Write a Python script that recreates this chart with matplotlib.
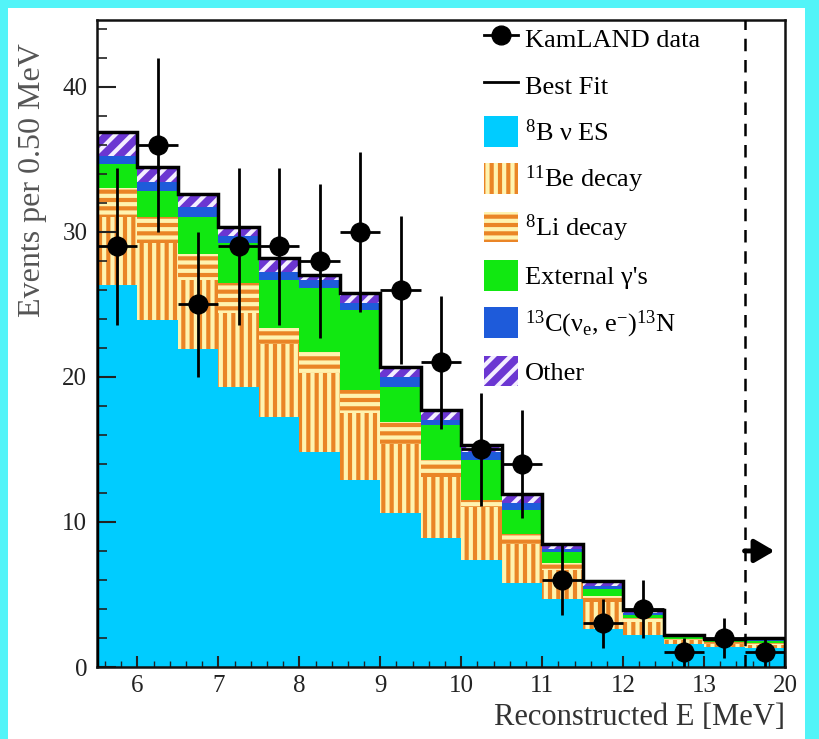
import numpy as np
import matplotlib
matplotlib.use('Agg')
import matplotlib.pyplot as plt
from matplotlib.patches import Patch, Rectangle
from matplotlib.lines import Line2D

plt.rcParams['font.family'] = ['Liberation Serif', 'DejaVu Serif']
plt.rcParams['mathtext.fontset'] = 'custom'
plt.rcParams['mathtext.rm'] = 'Liberation Serif'
plt.rcParams['mathtext.it'] = 'Liberation Serif:italic'
plt.rcParams['hatch.linewidth'] = 3.0

# ---- data ----
# bin low edges in reconstructed energy (MeV); last bin is 13.5-20 MeV (drawn compressed)
e_low = [5.5, 6.0, 6.5, 7.0, 7.5, 8.0, 8.5, 9.0, 9.5, 10.0, 10.5, 11.0, 11.5, 12.0, 12.5, 13.0, 13.5]
tick_energies = [6, 7, 8, 9, 10, 11, 12, 13, 20]
tick_labels = ['6', '7', '8', '9', '10', '11', '12', '13', '20']

kamland = [29, 36, 25, 29, 29, 28, 30, 26, 21, 15, 14, 6, 3, 4, 1, 2, 1]
err_lo = [5.4, 6.0, 5.0, 5.4, 5.4, 5.3, 5.5, 5.1, 4.6, 3.9, 3.7, 2.4, 1.7, 2.0, 1.0, 1.4, 1.0]
err_hi = [5.4, 6.0, 5.0, 5.4, 5.4, 5.3, 5.5, 5.1, 4.6, 3.9, 3.7, 2.4, 1.7, 2.0, 1.0, 1.4, 1.0]

b8_es = [26.3, 23.9, 21.9, 19.3, 17.2, 14.8, 12.9, 10.6, 8.9, 7.4, 5.8, 4.7, 2.6, 2.2, 1.6, 1.4, 1.3]
be11 = [4.7, 5.3, 4.8, 5.1, 5.1, 5.5, 4.6, 4.8, 4.2, 3.6, 2.7, 2.0, 1.9, 0.9, 0.25, 0.2, 0.2]
li8 = [2.0, 1.8, 1.8, 2.1, 1.1, 1.4, 1.6, 1.5, 1.2, 0.5, 0.7, 0.5, 0.4, 0.3, 0.1, 0.1, 0.15]
ext_gamma = [1.7, 1.8, 2.5, 2.7, 3.3, 4.4, 5.5, 2.4, 2.4, 2.8, 1.6, 0.7, 0.5, 0.2, 0.1, 0.1, 0.15]
c13 = [0.5, 0.6, 0.7, 0.5, 0.5, 0.6, 0.5, 0.7, 0.3, 0.5, 0.5, 0.2, 0.2, 0.1, 0.05, 0.05, 0.05]
other = [1.7, 1.1, 0.9, 0.6, 1.0, 0.3, 0.7, 0.7, 0.7, 0.5, 0.6, 0.4, 0.3, 0.2, 0.1, 0.05, 0.15]

# ---- display mapping (last bin 13.5-20 compressed to one 0.5-wide slot) ----
bw = 0.5
n = len(e_low)
x_left = np.array(e_low, dtype=float)
edges = np.append(x_left, x_left[-1] + bw)


def to_disp(e):
    return e if e <= 13.5 else 13.5 + bw


centers = x_left + bw / 2

# ---- figure ----
W, H = 819, 739
fig = plt.figure(figsize=(W / 100, H / 100), dpi=100)
fig.patch.set_facecolor('#52F4F8')
fig.patches.append(Rectangle((8 / W, 0), (805 - 8) / W, (H - 8) / H,
                             transform=fig.transFigure, facecolor='white',
                             edgecolor='none', zorder=-10))
ax = fig.add_axes([97 / W, (H - 667) / H, (785 - 97) / W, (667 - 20) / H])

orange = '#EA8526'
stripe = '#FFF3B0'
styles = [
    dict(facecolor='#00CCFF', edgecolor='#00CCFF', hatch=None),
    dict(facecolor=orange, edgecolor=stripe, hatch='||'),
    dict(facecolor=orange, edgecolor=stripe, hatch='--'),
    dict(facecolor='#11E811', edgecolor='#11E811', hatch=None),
    dict(facecolor='#1E5BDA', edgecolor='#1E5BDA', hatch=None),
    dict(facecolor='#6B36D2', edgecolor='#F4EEFF', hatch='//'),
]
comps = [b8_es, be11, li8, ext_gamma, c13, other]
bottom = np.zeros(n)
for vals, st in zip(comps, styles):
    vals = np.array(vals)
    ax.bar(x_left, vals, width=bw, bottom=bottom, align='edge', linewidth=0, **st)
    bottom = bottom + vals
total = bottom

ax.stairs(total, edges, color='black', linewidth=2.5, zorder=3)

ax.axvline(13.5, color='black', linestyle=(0, (5, 3.5)), linewidth=1.8, zorder=3)
ax.annotate('', xy=(13.87, 8.0), xytext=(13.5, 8.0),
            arrowprops=dict(arrowstyle='-|>,head_length=0.6,head_width=0.35',
                            color='black', lw=3.5, mutation_scale=20,
                            shrinkA=0, shrinkB=0),
            zorder=4)

ax.errorbar(centers, kamland, yerr=[err_lo, err_hi], xerr=bw / 2, fmt='o', color='black',
            ms=13.5, elinewidth=2, capsize=0, zorder=5)

ax.set_xlim(5.5, 14.0)
ax.set_ylim(0, 44.6)
ax.set_xticks([to_disp(e) for e in tick_energies])
ax.set_xticklabels(tick_labels)
ax.set_xticks(np.arange(5.6, 14.0, 0.2), minor=True)
ax.set_yticks([0, 10, 20, 30, 40])
ax.set_yticks(np.arange(0, 44.6, 2), minor=True)
ax.tick_params(axis='both', which='both', direction='in', colors='#222222', labelsize=18)
ax.tick_params(axis='y', which='major', length=14, width=1.5, pad=7)
ax.tick_params(axis='y', which='minor', length=7, width=1.2)
ax.tick_params(axis='x', which='major', length=8, width=1.5, pad=6)
ax.tick_params(axis='x', which='minor', length=4, width=1.0)
for s in ax.spines.values():
    s.set_linewidth(1.8)
    s.set_color('#111111')

ax.set_ylabel('Events per 0.50 MeV', fontsize=23, color='#555555', loc='top')
ax.yaxis.set_label_coords(-0.072, 0.965)
ax.set_xlabel('Reconstructed E [MeV]', fontsize=22, color='#333333', loc='right')
ax.xaxis.set_label_coords(1.0, -0.055)

handles = [
    Line2D([], [], marker='o', color='black', ls='-', lw=2, ms=13.5),
    Line2D([], [], color='black', lw=2),
]
for st in styles:
    handles.append(Patch(linewidth=0, **st))
labels = ['KamLAND data', 'Best Fit', r'$^{8}$B ν ES', r'$^{11}$Be decay',
          r'$^{8}$Li decay', "External γ's",
          r'$^{13}$C(ν$_{\mathrm{e}}$, e$^{-}$)$^{13}$N', 'Other']
leg = ax.legend(handles, labels, loc='upper left', bbox_to_anchor=(0.547, 1.012),
                frameon=False, fontsize=19, handlelength=1.3, handleheight=1.4,
                handletextpad=0.25, labelspacing=0.62, borderaxespad=0.0)

fig.savefig('out.png', dpi=100, facecolor=fig.get_facecolor())
